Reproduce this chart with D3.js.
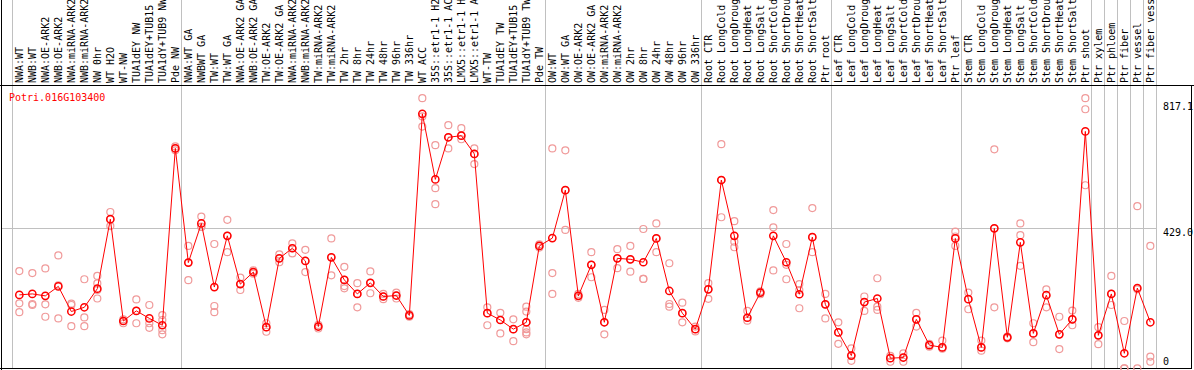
<!DOCTYPE html>
<html>
<head>
<meta charset="utf-8">
<script src="https://cdn.jsdelivr.net/npm/d3@7"></script>
<style>
  body { margin: 0; background: #fff; }
  svg { display: block; }
  text { font-family: "DejaVu Sans Mono", monospace; font-size: 10px; }
</style>
</head>
<body>
<svg id="chart" width="1194" height="370"></svg>
<script>
var gene = "Potri.016G103400";

var labels = ["NWA:WT","NWB:WT","NWA:OE-ARK2","NWB:OE-ARK2","NWA:miRNA-ARK2","NWB:miRNA-ARK2",
  "NW 0hr","WT H2O","WT-NW","TUA1dEY NW","TUA1dEY+TUB15 NW","TUA1dY+TUB9 NW","Pde NW",
  "NWA:WT GA","NWBWT GA","TW:WT","TW:WT GA","NWA:OE-ARK2 GA","NWB:OE-ARK2 GA","TW:OE-ARK2",
  "TW:OE-ARK2 GA","NWA:miRNA-ARK2 GA","NWB:miRNA-ARK2 GA","TW:miRNA-ARK2","TW:miRNA-ARK2 GA",
  "TW 2hr","TW 8hr","TW 24hr","TW 48hr","TW 96hr","TW 336hr","WT ACC",
  "35S::etr1-1 H2O","35S::etr1-1 ACC","LMX5::etr1-1 H2O","LMX5::etr1-1 ACC",
  "WT-TW","TUA1dEY TW","TUA1dEY+TUB15 TW","TUA1dY+TUB9 TW","Pde TW",
  "OW:WT","OW:WT GA","OW:OE-ARK2","OW:OE-ARK2 GA","OW:miRNA-ARK2","OW:miRNA-ARK2 GA",
  "OW 2hr","OW 8hr","OW 24hr","OW 48hr","OW 96hr","OW 336hr",
  "Root CTR","Root LongCold","Root LongDrought","Root LongHeat","Root LongSalt",
  "Root ShortCold","Root ShortDrought","Root ShortHeat","Root ShortSalt","Ptr root",
  "Leaf CTR","Leaf LongCold","Leaf LongDrought","Leaf LongHeat","Leaf LongSalt",
  "Leaf ShortCold","Leaf ShortDrought","Leaf ShortHeat","Leaf ShortSalt","Ptr leaf",
  "Stem CTR","Stem LongCold","Stem LongDrought","Stem LongHeat","Stem LongSalt",
  "Stem ShortCold","Stem ShortDrought","Stem ShortHeat","Stem ShortSalt","Ptr shoot",
  "Ptr xylem","Ptr phloem","Ptr fiber","Ptr vessel","Ptr fiber vessel"];

// mean expression per sample
var means = [225,228,222,251,174,187,244,457,145,176,153,132,674,
  324,444,249,406,258,295,126,337,368,329,128,340,
  271,228,262,220,223,162,780,579,708,713,657,
  169,148,120,141,375,
  399,546,222,317,141,337,334,325,398,237,169,120,
  242,577,406,155,232,406,325,227,402,196,
  110,39,203,214,31,33,150,71,64,398,
  212,64,429,95,386,107,224,104,150,726,
  101,228,46,246,141];

// replicate values per sample
var reps = [[298,199,172],[292,197,194],[306,196,158],[346,254,153],[194,198,129],[273,156,129],
  [283,260,240,214],[479,456,436],[150,145,138],[211,176,138],[194,138,124],[163,148,117,104],[668,674,680],
  [375,324,270],[465,434,433],[381,191,172],[455,406,356],[278,258,240],[290,295,300],[138,126,112],
  [349,337,325],[383,368,352],[363,329,295],[122,128,133],[398,340,285],
  [311,271,252,245],[261,228,187],[297,262,230],[228,220,212],[232,223,214],[158,162,166],[828,772,741],
  [684,552,503],[745,708,674],[736,713,702],[674,657,626],
  [187,169,132],[170,148,107],[150,120,83],[189,174,141,120,110,104],[370,375,380],
  [674,292,228],[668,546,424],[216,222,228],[356,317,279],[179,141,104],[365,337,307],
  [375,334,296],[427,274,274],[444,398,356],[322,197,189],[201,169,141],[128,120,113],
  [261,242,213],[687,577,463],[451,388,371],[176,155,146],[236,232,227],[485,432,300],
  [381,317,273],[258,240,184],[491,402,356],[228,196,153],
  [141,110,75],[61,39,23],[220,203,176],[276,189,179],[38,31,20],[46,33,20],
  [170,150,128],[75,71,66],[85,64,60],[419,404,375],
  [232,212,181],[85,64,54],[671,429,187],[97,95,92],[444,408,314],[138,107,80],
  [242,224,187],[158,104,59],[177,150,132],[828,794,561],
  [126,101,74],[283,228,194],[145,0,0],[497,242,0],[375,36,20]];

// first sample index of each group (separator lines)
var groupStarts = [0,13,41,53,63,73,83,84,85,86,87];
var yTicks = [817.1, 429.0, 0];

var svg = d3.select("#chart");
var W = 1194, H = 370;
var headerBottom = 85.5, plotBottom = 368.5;

var x = d3.scaleLinear().domain([0, labels.length - 1]).range([19.33, 1150.33]);
var y = d3.scaleLinear().domain([0, 817.1]).range([368.3, 101.7]);

// group separators
var sepX = groupStarts.map(function(i){ return Math.round(x(i) - 7.7) + 0.5; });
sepX.push(Math.round(x(labels.length - 1) + 5.3) + 0.5);
svg.append("g").selectAll("line").data(sepX).enter().append("line")
  .attr("x1", function(d){ return d; }).attr("x2", function(d){ return d; })
  .attr("y1", 0).attr("y2", plotBottom)
  .attr("stroke", "#c0c0c0").attr("stroke-width", 1);

// horizontal grid at middle tick
svg.append("line")
  .attr("x1", 2).attr("x2", sepX[sepX.length - 1])
  .attr("y1", Math.round(y(429)) + 0.5).attr("y2", Math.round(y(429)) + 0.5)
  .attr("stroke", "#c0c0c0").attr("stroke-width", 1);

// frame
svg.append("line").attr("x1", 0).attr("x2", W).attr("y1", headerBottom).attr("y2", headerBottom)
  .attr("stroke", "#000").attr("stroke-width", 1);
svg.append("line").attr("x1", 0).attr("x2", 1192).attr("y1", plotBottom).attr("y2", plotBottom)
  .attr("stroke", "#000").attr("stroke-width", 1);
svg.append("line").attr("x1", 1.5).attr("x2", 1.5).attr("y1", 0).attr("y2", H)
  .attr("stroke", "#000").attr("stroke-width", 1);
svg.append("line").attr("x1", 1191.5).attr("x2", 1191.5).attr("y1", headerBottom).attr("y2", plotBottom)
  .attr("stroke", "#000").attr("stroke-width", 1);

// sample labels (rotated)
svg.append("g").selectAll("text").data(labels).enter().append("text")
  .attr("transform", function(d, i){ return "translate(" + (x(i) + 3.5) + ",83) rotate(-90)"; })
  .attr("fill", "#000")
  .text(function(d){ return d; });

// gene name
svg.append("text").attr("x", 9).attr("y", 101).attr("fill", "#ff0000").text(gene);

// right axis labels
svg.append("g").selectAll("text").data(yTicks).enter().append("text")
  .attr("x", 1163)
  .attr("y", function(d){ return d === 0 ? 365 : y(d) + 8; })
  .attr("fill", "#000")
  .text(function(d){ return d === 0 ? "0" : d.toFixed(1); });

// replicate points
var repPts = [];
reps.forEach(function(r, i){ r.forEach(function(v){ repPts.push([i, v]); }); });
svg.append("g").selectAll("circle").data(repPts).enter().append("circle")
  .attr("cx", function(d){ return x(d[0]); })
  .attr("cy", function(d){ return y(d[1]); })
  .attr("r", 3.5)
  .attr("fill", "none").attr("stroke", "#f09a9a").attr("stroke-width", 1.2);

// mean line
var line = d3.line().x(function(d, i){ return x(i); }).y(function(d){ return y(d); });
svg.append("path").datum(means).attr("d", line)
  .attr("fill", "none").attr("stroke", "#ff0000").attr("stroke-width", 1);

// mean markers
svg.append("g").selectAll("circle").data(means).enter().append("circle")
  .attr("cx", function(d, i){ return x(i); })
  .attr("cy", function(d){ return y(d); })
  .attr("r", 3.6)
  .attr("fill", "none").attr("stroke", "#ff0000").attr("stroke-width", 1.5);
</script>
</body>
</html>
